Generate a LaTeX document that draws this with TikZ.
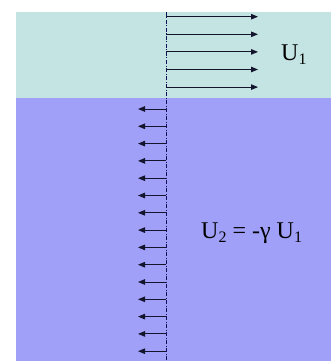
\documentclass[tikz,border=0pt]{standalone}
\usepackage{fontspec}
\setmainfont{Liberation Serif}
\usetikzlibrary{arrows.meta}
\definecolor{topfluid}{RGB}{196,228,228}
\definecolor{botfluid}{RGB}{160,160,248}
\definecolor{arrowcol}{RGB}{20,20,45}
\newcommand{\sbs}[1]{\raisebox{-4pt}{\fontsize{16}{18}\selectfont #1}}
\begin{document}
\begin{tikzpicture}[x=1pt,y=-1pt,
  vel/.style={draw=arrowcol,line width=0.9pt,-{Triangle[length=7pt,width=5.5pt]}},
  axisline/.style={draw=arrowcol!80!blue,line width=0.6pt,dash pattern=on 4pt off 1.5pt on 1pt off 1.5pt},
  lab/.style={font=\fontsize{24}{28}\selectfont,inner sep=0pt,anchor=base west,text=black}]
\useasboundingbox (0,0) rectangle (331,361);
\fill[white] (0,0) rectangle (331,361);
\fill[topfluid] (16,12) rectangle (331,97.5);
\fill[botfluid] (16,97.5) rectangle (331,361);
\coordinate (axtop) at (166,12);
\coordinate (axbot) at (166,361);
\draw[axisline] (axtop) -- (axbot);
\foreach \i in {0,...,4}{
  \coordinate (ts\i) at (166,{16.7+17.6*\i});
  \coordinate (te\i) at (258,{16.7+17.6*\i});
  \draw[vel] (ts\i) -- (te\i);
}
\foreach \i in {0,...,14}{
  \coordinate (bs\i) at (166,{109+17.3*\i});
  \coordinate (be\i) at (138,{109+17.3*\i});
  \draw[vel] (bs\i) -- (be\i);
}
\node[lab] (u1) at (281,60.5) {U\sbs{1}};
\node[lab] (u2) at (201,238) {U\sbs{2} = -γ U\sbs{1}};
\end{tikzpicture}
\end{document}
